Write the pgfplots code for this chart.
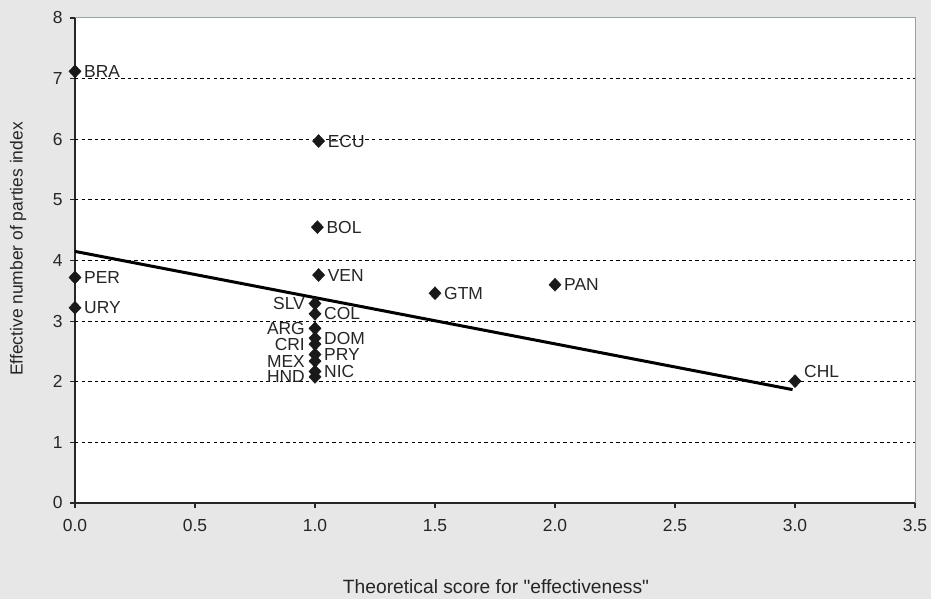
\documentclass[border=0pt]{standalone}
\usepackage{pgfplots}
\pgfplotsset{compat=1.18}
\usepackage{fontspec}
\setmainfont{Liberation Sans}[Ligatures=TeXOff]
\definecolor{bg}{HTML}{E6E7E6}
\definecolor{framegray}{HTML}{9AA3A3}
\begin{document}
\begin{tikzpicture}[x=1bp,y=1bp]
\fill[bg] (0,0) rectangle (931,599);
\begin{axis}[
  at={(75bp,96bp)}, anchor=south west,
  width=840bp, height=485bp, scale only axis,
  xmin=0, xmax=3.5, ymin=0, ymax=8,
  xtick={0,0.5,1,1.5,2,2.5,3,3.5},
  xticklabels={0.0,0.5,1.0,1.5,2.0,2.5,3.0,3.5},
  ytick={0,1,2,3,4,5,6,7,8},
  /pgf/number format/assume math mode=true,
  ticklabel style={font=\fontsize{17.5}{20}\selectfont, color=black!85},
  xticklabel style={yshift=-8bp},
  yticklabel style={xshift=-4bp},
  axis x line*=bottom, axis y line*=left,
  axis line style={black!85, line width=1.8bp, -},
  tick align=outside, major tick length=5bp,
  tick style={black!85, line width=1.2bp},
  axis background/.style={fill=white},
  clip=false,
  nodes near coords,
  point meta=explicit symbolic,
  every node near coord/.append style={font=\fontsize{17.5}{20}\selectfont, color=black!85, inner sep=0pt},
]
\pgfplotsinvokeforeach{1,2,3,4,5,6,7}{
  \draw[black, line width=1.2bp, dash pattern=on 3.3bp off 3.3bp] (axis cs:0,#1) -- (axis cs:3.5,#1);
}
\draw[framegray, line width=1bp] (axis cs:0,8) -- (axis cs:3.5,8) -- (axis cs:3.5,0);
% regression line
\addplot[black, line width=3bp, no marks, nodes near coords={}] coordinates {(0,4.15) (2.99,1.87)};
% points labelled on the right
\addplot[only marks, mark=diamond*, mark size=6.5bp, mark options={xscale=1.25}, black!90,
  every node near coord/.append style={anchor=west, xshift=9bp}]
  table[meta=label] {
x y label
0 7.12 BRA
1.015 5.97 ECU
1.01 4.55 BOL
1.015 3.76 VEN
0 3.72 PER
0 3.22 URY
1.5 3.46 GTM
2.0 3.60 PAN
1.0 3.12 COL
1.0 2.72 DOM
1.0 2.45 PRY
1.0 2.17 NIC
};
% CHL
\addplot[only marks, mark=diamond*, mark size=6.5bp, mark options={xscale=1.25}, black!90,
  every node near coord/.append style={anchor=west, xshift=9bp, yshift=10bp}]
  table[meta=label] {
x y label
3.0 2.01 CHL
};
% points labelled on the left
\addplot[only marks, mark=diamond*, mark size=6.5bp, mark options={xscale=1.25}, black!90,
  every node near coord/.append style={anchor=east, xshift=-10bp}]
  table[meta=label] {
x y label
1.0 3.29 SLV
1.0 2.88 ARG
1.0 2.62 CRI
1.0 2.34 MEX
1.0 2.08 HND
};
\end{axis}
\node[font=\fontsize{19.3}{22}\selectfont, color=black!85] at (496,12) {Theoretical score for "effectiveness"};
\node[font=\fontsize{17.5}{20}\selectfont, color=black!85, rotate=90] at (18,350) {Effective number of parties index};
\end{tikzpicture}
\end{document}
